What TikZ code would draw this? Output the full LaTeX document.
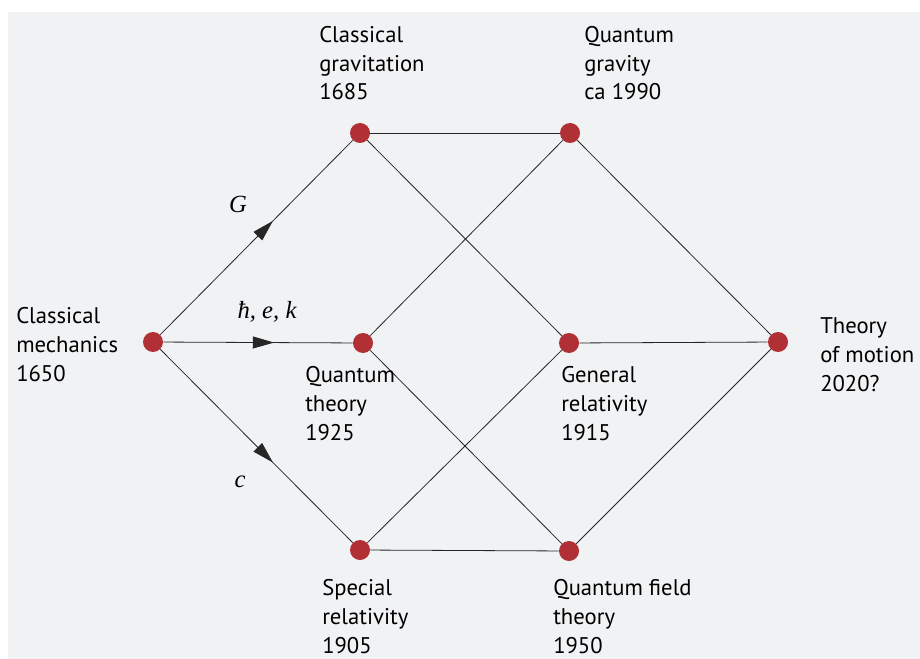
\documentclass[tikz,border=0pt]{standalone}
\usepackage{fontspec}
\setmainfont{PT Sans}
\newfontfamily\mfont{Liberation Serif}
\usetikzlibrary{arrows.meta,decorations.markings}
\definecolor{bgc}{HTML}{F1F2F4}
\definecolor{dotc}{HTML}{B03035}
\tikzset{
  dot/.style={circle,fill=dotc,draw=none,inner sep=0pt,minimum size=15pt},
  link/.style={draw=black!85,line width=0.6pt},
  arr/.style={link,postaction={decorate},decoration={markings,mark=at position 0.585 with {\arrow{Triangle[length=16pt,width=9pt]}}}},
  lbl/.style={anchor=base west,align=left,inner sep=0pt,font=\fontsize{17}{21.4}\selectfont},
  mlbl/.style={inner sep=0pt,font=\mfont\itshape\fontsize{18.5}{22}\selectfont}
}
\begin{document}
\begin{tikzpicture}[x=0.75pt,y=-0.75pt]
\useasboundingbox (0,0) rectangle (920,659);
\fill[bgc] (8,12) rectangle (920,659);
% dots
\node[dot] (cm) at (153,342) {};
\node[dot] (cg) at (360,133) {};
\node[dot] (qg) at (570,133) {};
\node[dot] (qt) at (363,343) {};
\node[dot] (gr) at (569,343) {};
\node[dot] (tm) at (778,342) {};
\node[dot] (sr) at (360,550) {};
\node[dot] (qf) at (569,551) {};
% edges
\draw[arr] (cm) -- (cg);
\draw[arr] (cm) -- (qt);
\draw[arr] (cm) -- (sr);
\draw[link] (cg) -- (qg);
\draw[link] (cg) -- (gr);
\draw[link] (qg) -- (qt);
\draw[link] (qg) -- (tm);
\draw[link] (qt) -- (qf);
\draw[link] (gr) -- (tm);
\draw[link] (gr) -- (sr);
\draw[link] (sr) -- (qf);
\draw[link] (qf) -- (tm);
% math labels
\node[mlbl] (lg) at (238,204) {G};
\node[mlbl] (lh) at (267,312) {ħ, e, k};
\node[mlbl] (lc) at (240,482) {c};
% text labels
\node[lbl] (tcm) at (16,381) {Classical\\mechanics\\1650};
\node[lbl] (tcg) at (319,100) {Classical\\gravitation\\1685};
\node[lbl] (tqg) at (584,100) {Quantum\\gravity\\ca 1990};
\node[lbl] (tqt) at (305,440) {Quantum\\theory\\1925};
\node[lbl] (tgr) at (561,440) {General\\relativity\\1915};
\node[lbl] (ttm) at (820,391) {Theory\\of motion\\2020?};
\node[lbl] (tsr) at (322,653) {Special\\relativity\\1905};
\node[lbl] (tqf) at (553,653) {Quantum field\\theory\\1950};
\end{tikzpicture}
\end{document}
